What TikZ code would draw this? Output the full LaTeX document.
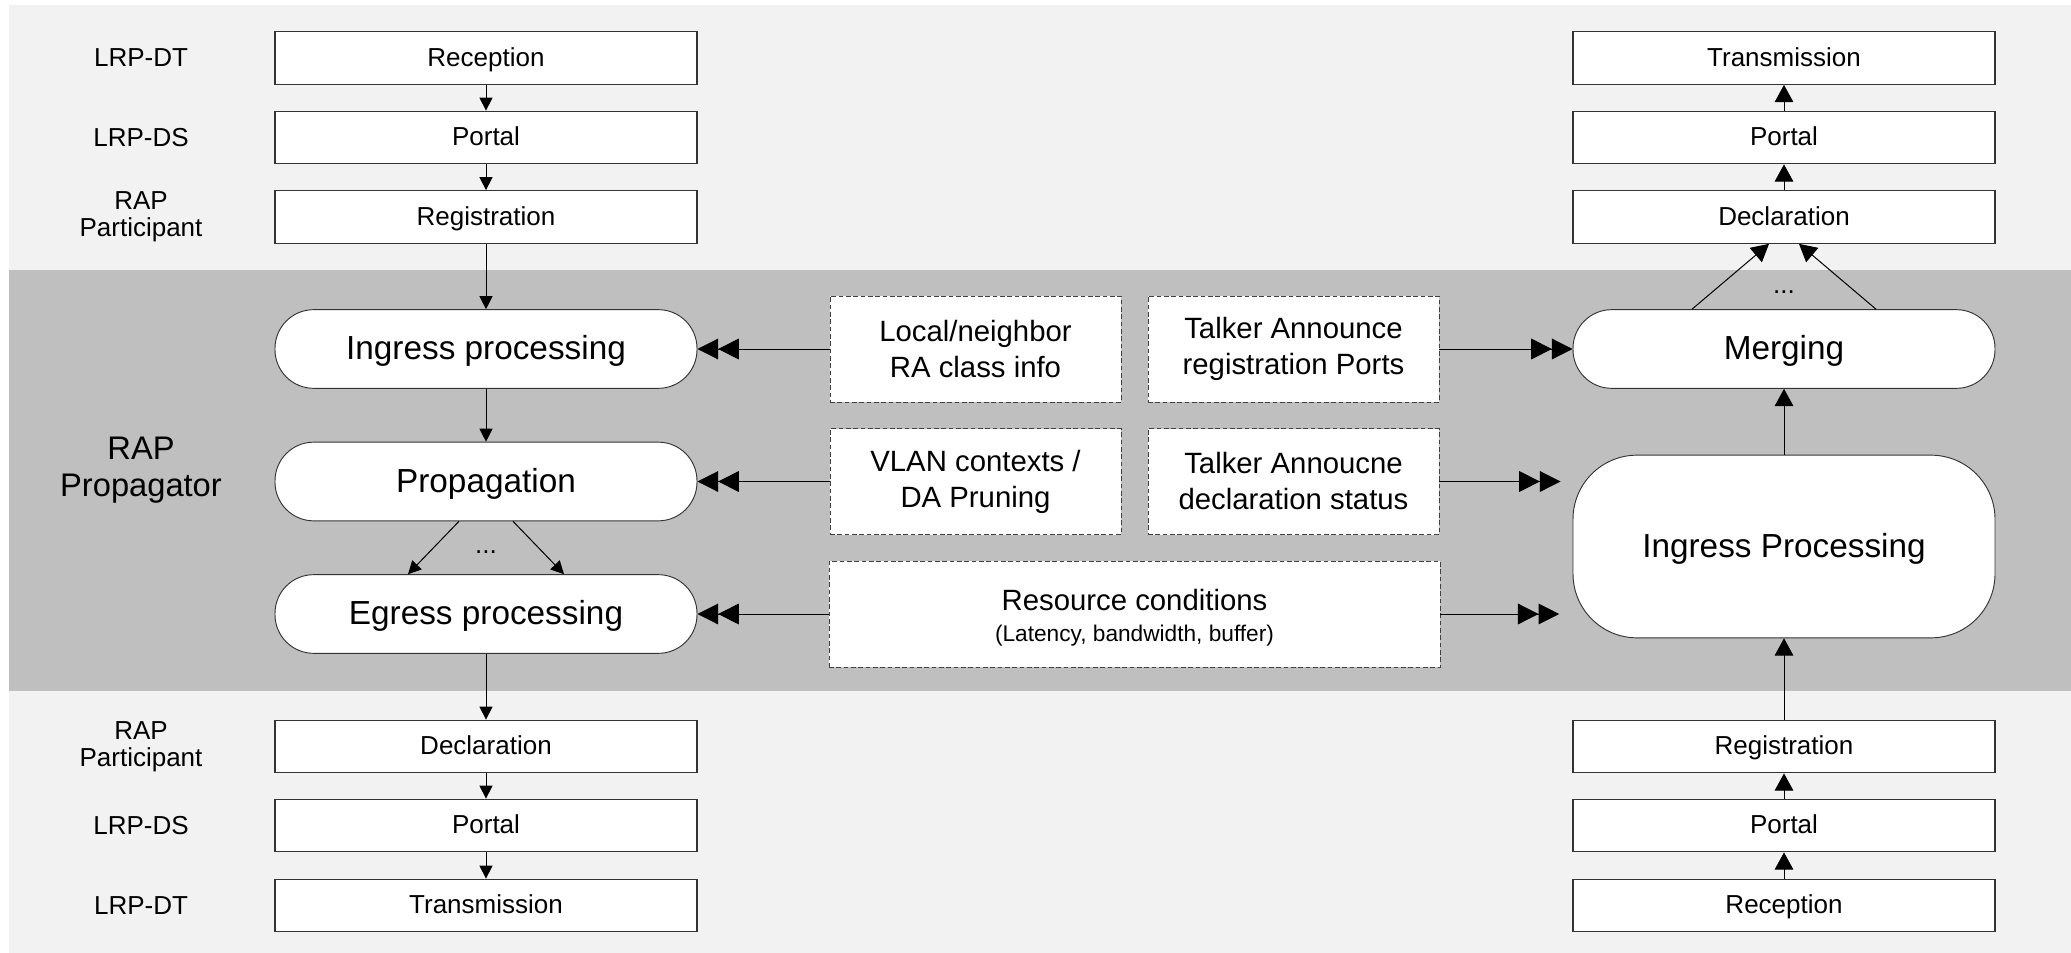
\documentclass[tikz,border=0pt]{standalone}
\usepackage{fontspec}
\setmainfont{Liberation Sans}
\usetikzlibrary{arrows.meta,calc}
\definecolor{lightbg}{HTML}{F2F2F2}
\definecolor{darkbg}{HTML}{BFBFBF}
\begin{document}
\begin{tikzpicture}[x=0.75pt,y=-0.75pt,
  box/.style={draw=black!80,line width=0.8pt,fill=white,minimum width=316.5pt,minimum height=39.5pt,inner sep=0pt,text height=14pt,text depth=2pt,font=\fontsize{19.5}{20}\selectfont},
  proc/.style={draw=black!80,line width=0.7pt,fill=white,rounded corners=29pt,minimum width=316.5pt,minimum height=59pt,inner sep=0pt,text height=18pt,text depth=2pt,font=\fontsize{25}{26}\selectfont},
  info/.style={draw=black!75,line width=0.7pt,dash pattern=on 3.5pt off 2pt,fill=white,minimum width=218.25pt,minimum height=79.5pt,inner sep=0pt,align=center,font=\fontsize{22}{27}\selectfont},
  lbl/.style={align=center,inner sep=0pt,font=\fontsize{19.5}{20.5}\selectfont},
  dotlbl/.style={anchor=base,inner sep=0pt,font=\fontsize{19.5}{20}\selectfont},
  sa/.style={line width=0.75pt,-{Triangle[length=9.75pt,width=9.75pt]}},
  ba/.style={line width=0.75pt,-{Triangle[length=13pt,width=14pt]}},
  da/.style={line width=0.75pt,-{Triangle[length=15.5pt,width=15.5pt,sep=0pt]Triangle[length=15.5pt,width=15.5pt]}},
]
\useasboundingbox (0,0) rectangle (2071,953);
\fill[lightbg] (9,5) rectangle (2071,953);
\fill[darkbg] (9,270) rectangle (2071,691);

% left column
\node[box] (lrx) at (486,58) {Reception};
\node[box] (lpt) at (486,137.5) {Portal};
\node[box] (lrg) at (486,217) {Registration};
\node[proc] (ing) at (486,349) {Ingress processing};
\node[proc] (prp) at (486,481.5) {Propagation};
\node[proc] (egr) at (486,614) {Egress processing};
\node[box] (ldc) at (486,746.5) {Declaration};
\node[box] (lpb) at (486,825.5) {Portal};
\node[box] (ltx) at (486,905.5) {Transmission};

% right column
\node[box] (rtx) at (1784,58) {Transmission};
\node[box] (rpt) at (1784,137.5) {Portal};
\node[box] (rdc) at (1784,217) {Declaration};
\node[proc] (mrg) at (1784,349) {Merging};
\node[proc,minimum height=137pt,rounded corners=48pt] (ipr) at (1784,546.5) {Ingress Processing};
\node[box] (rrg) at (1784,746.5) {Registration};
\node[box] (rpb) at (1784,825.5) {Portal};
\node[box] (rrx) at (1784,905.5) {Reception};

% info boxes
\node[info] (lc) at (975.5,349) {Local/neighbor\\RA class info};
\node[info] (ta) at (1293.5,349) {Talker Announce\\registration Ports};
\node[info] (vl) at (975.5,481.5) {VLAN contexts /\\DA Pruning};
\node[info] (td) at (1293.5,481.5) {Talker Annoucne\\declaration status};
\node[info,minimum width=458.25pt] (rc) at (1134.5,614) {\rule{0pt}{22pt}Resource conditions\\[-4pt]{\fontsize{17}{21}\selectfont (Latency, bandwidth, buffer)}};

% side labels
\node[lbl] (l1) at (141,58) {LRP-DT};
\node[lbl] (l2) at (141,137.5) {LRP-DS};
\node[lbl] (l3) at (141,217) {RAP\\Participant};
\node[lbl,font=\fontsize{24.5}{28}\selectfont] (l4) at (141,470) {RAP\\Propagator};
\node[lbl] (l5) at (141,746.5) {RAP\\Participant};
\node[lbl] (l6) at (141,825.5) {LRP-DS};
\node[lbl] (l7) at (141,905.5) {LRP-DT};

% left connectors
\draw[sa] (lrx) -- (lpt);
\draw[sa] (lpt) -- (lrg);
\draw[sa] (lrg) -- (ing);
\draw[sa] (ing) -- (prp);
\draw[sa] ([xshift=-20.25pt]prp.south) -- ([xshift=-58.5pt]egr.north);
\draw[sa] ([xshift=20.25pt]prp.south) -- ([xshift=58.5pt]egr.north);
\node[dotlbl] (dotsl) at (486,553) {...};
\draw[sa] (egr) -- (ldc);
\draw[sa] (ldc) -- (lpb);
\draw[sa] (lpb) -- (ltx);

% right connectors
\draw[ba] (rrx) -- (rpb);
\draw[ba] (rpb) -- (rrg);
\draw[ba] (rrg) -- (ipr);
\draw[ba] (ipr) -- (mrg);
\draw[ba] ([xshift=-69pt]mrg.north) -- ([xshift=-11.25pt]rdc.south);
\draw[ba] ([xshift=69pt]mrg.north) -- ([xshift=11.25pt]rdc.south);
\node[dotlbl] (dotsr) at (1784,293) {...};
\draw[ba] (rdc) -- (rpt);
\draw[ba] (rpt) -- (rtx);

% horizontal connectors
\draw[da] (lc) -- (ing);
\draw[da] (vl) -- (prp);
\draw[da] (rc.west) -- (egr.east);
\draw[da] (ta) -- (mrg);
\draw[da,shorten >=9pt] (td.east) -- (td.east -| ipr.west);
\draw[da,shorten >=10pt] (rc.east) -- (rc.east -| ipr.west);
\end{tikzpicture}
\end{document}
